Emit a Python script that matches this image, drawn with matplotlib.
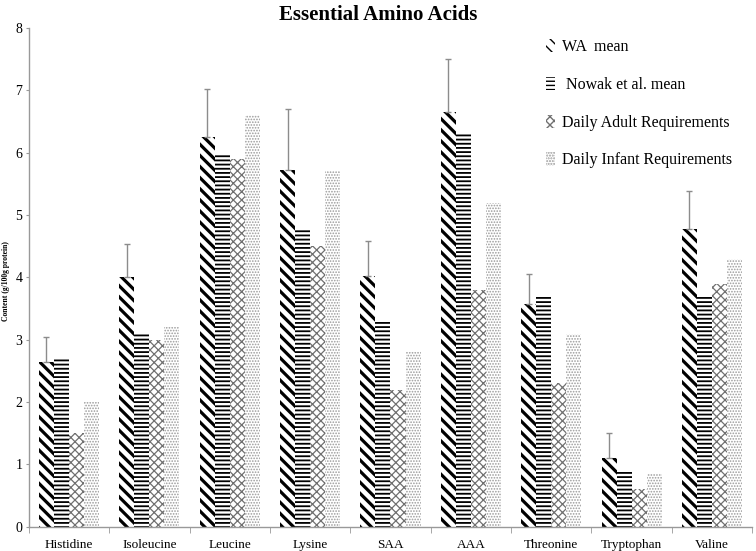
import numpy as np
import matplotlib
matplotlib.use('Agg')
import matplotlib.pyplot as plt

# Data
amino_acids = ['Histidine', 'Isoleucine', 'Leucine', 'Lysine', 'SAA', 'AAA',
               'Threonine', 'Tryptophan', 'Valine']
wa_mean = [2.65, 4.0, 6.25, 5.72, 4.02, 6.65, 3.57, 1.1, 4.78]
wa_err = [0.4, 0.53, 0.78, 0.98, 0.56, 0.85, 0.48, 0.4, 0.6]
nowak_mean = [2.7, 3.1, 6.0, 4.8, 3.3, 6.3, 3.7, 0.9, 3.7]
adult_req = [1.5, 3.0, 5.9, 4.5, 2.2, 3.8, 2.3, 0.6, 3.9]
infant_req = [2.0, 3.2, 6.6, 5.7, 2.8, 5.2, 3.1, 0.85, 4.3]

series_labels = ['WA  mean', ' Nowak et al. mean', 'Daily Adult Requirements',
                 'Daily Infant Requirements']

plt.rcParams['font.family'] = ['Liberation Serif', 'DejaVu Serif']

fig = plt.figure(figsize=(7.56, 5.51), dpi=100)
ax = fig.add_axes([0.038, 0.044, 0.957, 0.905])

x = np.arange(len(amino_acids))
w = 0.187

styles = [
    dict(hatch='\\\\\\', edgecolor='black', hlw=2.3),
    dict(hatch='----', edgecolor='black', hlw=1.3),
    dict(hatch='xxxx', edgecolor='#707070', hlw=0.9),
    dict(hatch='......', edgecolor='#9a9a9a', hlw=0.8),
]
data = [wa_mean, nowak_mean, adult_req, infant_req]

handles = []
for i, (vals, st) in enumerate(zip(data, styles)):
    pos = x + (i - 1.5) * w
    bars = ax.bar(pos, vals, w, facecolor='white', edgecolor=st['edgecolor'],
                  hatch=st['hatch'], linewidth=0, label=series_labels[i], zorder=2)
    for b in bars:
        try:
            b.set_hatch_linewidth(st['hlw'])
        except AttributeError:
            pass
    handles.append(bars)

# upward-only error bars for WA mean
ax.errorbar(x - 1.5 * w, wa_mean, yerr=[np.zeros(len(wa_err)), wa_err],
            fmt='none', ecolor='#8c8c8c', elinewidth=1, capsize=2.5, capthick=1,
            zorder=3)

ax.set_xlim(-0.5, len(amino_acids) - 0.5)
ax.set_ylim(0, 8)
ax.set_yticks(range(0, 9))
ax.set_xticks(x)
ax.set_xticklabels(amino_acids, fontsize=9.5)
ax.set_xticks(np.arange(-0.5, len(amino_acids), 1), minor=True)
ax.tick_params(axis='x', which='major', length=0, pad=9)
ax.tick_params(axis='x', which='minor', length=4, color='#999999', direction='out')
ax.tick_params(axis='y', length=2.5, color='#999999', labelsize=10, direction='out', pad=2)

for s in ['top', 'right']:
    ax.spines[s].set_visible(False)
for s in ['left', 'bottom']:
    ax.spines[s].set_color('#999999')
    ax.spines[s].set_linewidth(1)

fig.text(0.008, 0.49, 'Content (g/100g protein)', rotation=90, ha='center',
         va='center', fontsize=5.5, fontweight='bold')

fig.text(0.5, 0.972, 'Essential Amino Acids', ha='center', va='center',
         fontsize=15, fontweight='bold')

leg = fig.legend(handles=handles, labels=series_labels, loc='upper left',
                 bbox_to_anchor=(0.703, 0.955), frameon=False, fontsize=11.5,
                 handlelength=0.6, handleheight=0.9, handletextpad=0.4,
                 labelspacing=1.35)

plt.savefig('out.png', dpi=100)
plt.close(fig)
